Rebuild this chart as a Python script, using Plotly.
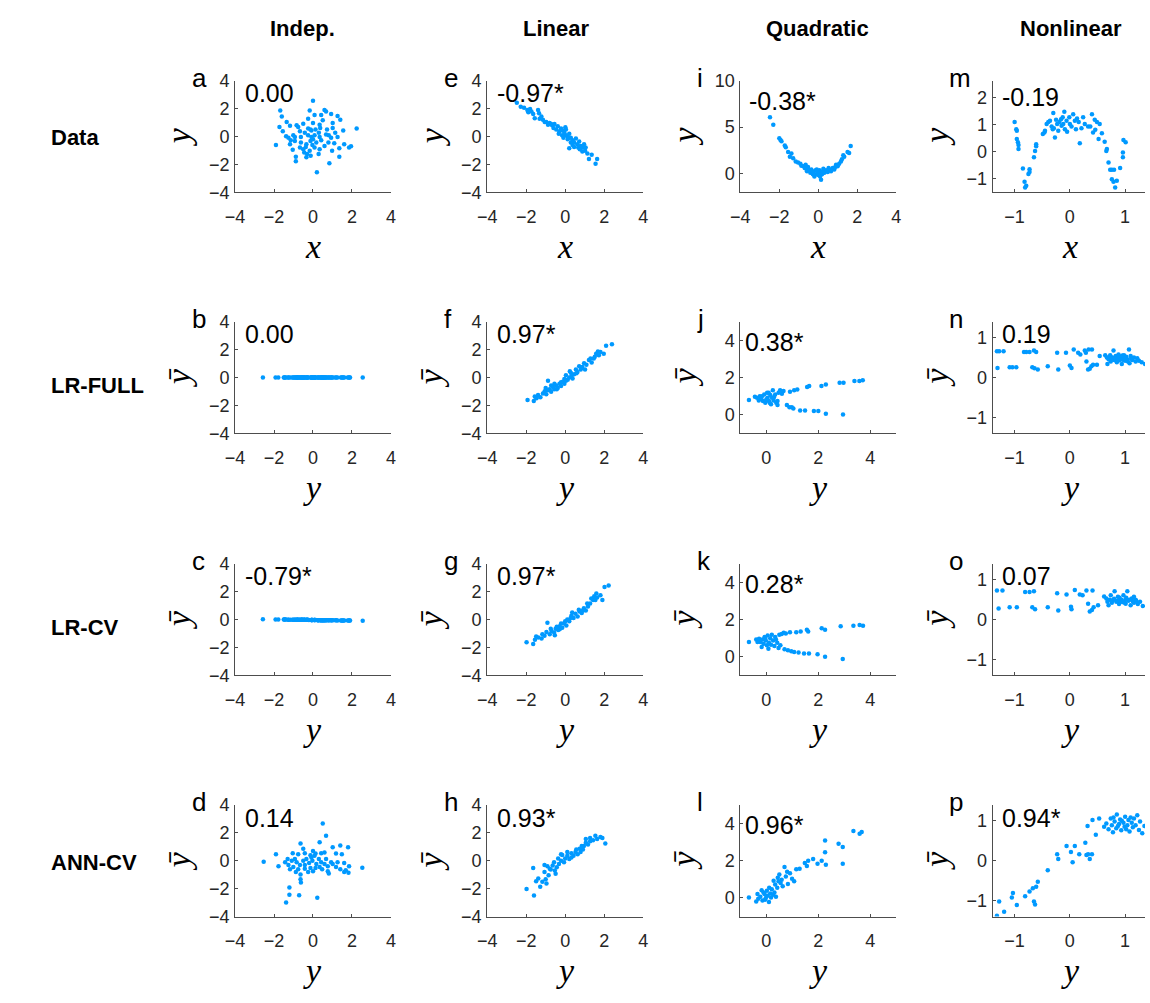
import plotly.graph_objects as go

# ---------------- data ----------------
# Column 1: independent
indep_x = [0, -1.68, -1.6, -0.17, 0.59, 0.67, 0.42, 0.93, 1.26, 1.4,
           0.08, -0.25, -1.35, -1.72, -1.55, -1.18, -0.84, -0.76, -0.5, 0,
           0.34, 0.5, 1.01, 1.01, 0.72, 2.24, 1.55, -0.25, -0.42, -0.08,
           0.13, 0.3, -1.01, -1.14, -0.93, -0.62, -0.25, -0.08, 0.08, 0.34,
           0.81, 0.93, -1.9, -1.18, -0.93, -0.62, -0.34, -0.13, 0, 0.17,
           0.42, 0.59, 0.79, 1.09, 1.6, 1.85, 1.95, 1.35, -1.04, -0.88,
           -0.5, -0.45, -0.3, -0.17, 0.08, 0.34, -0.34, -0.12, 0.29, 0.98,
           1.35, 0.84, 0.2, -0.88, -0.67, -0.37, -0.03, -0.13, 0.37, 0.67,
           1.14, 1.26, -1.38, -0.67, -1.26]
indep_y = [2.55, 1.85, 1.43, 1.85, 1.9, 1.78, 1.54, 1.61, 1.47, 1.19,
           1.54, 1.26, 1.03, 0.68, 0.37, 0.77, 0.8, 0.68, 0.91, 0.96,
           0.84, 1.15, 0.96, 0.61, 0.49, 0.56, 0.42, 0.56, 0.26, 0.42,
           0.49, 0.26, 0.09, -0.28, -0.05, -0.05, 0.09, -0.05, 0.09, -0.05,
           0.09, -0.09, -0.61, -0.56, -0.33, -0.44, -0.56, -0.33, -0.21, -0.44,
           -0.28, -0.68, -0.44, -0.49, -0.56, -0.8, -0.7, -0.84, -0.96, -1.78,
           -0.91, -1.15, -1.26, -1.03, -0.8, -0.91, -1.5, -1.38, -1.26, -1.03,
           -1.45, -1.92, -2.57, -1.45, -0.8, -0.75, -0.61, 0.49, 0.61, 0.14,
           0.26, -0.05, 0.02, 0.37, -0.09]
lrfull_indep_pred = [0.00, 0.00, 0.00, 0.00, 0.00, 0.00, 0.00, 0.00, 0.00, 0.00,
                     0.00, 0.00, 0.00, 0.00, 0.00, 0.00, 0.00, 0.00, 0.00, 0.00,
                     0.00, 0.00, 0.00, 0.00, 0.00, 0.00, 0.00, 0.00, 0.00, 0.00,
                     0.00, 0.00, 0.00, 0.00, 0.00, 0.00, 0.00, 0.00, 0.00, 0.00,
                     0.00, 0.00, 0.00, 0.00, 0.00, 0.00, 0.00, 0.00, 0.00, 0.00,
                     0.00, 0.00, 0.00, 0.00, 0.00, 0.00, 0.00, 0.00, 0.00, 0.00,
                     0.00, 0.00, 0.00, 0.00, 0.00, 0.00, 0.00, 0.00, 0.00, 0.00,
                     0.00, 0.00, 0.00, 0.00, 0.00, 0.00, 0.00, 0.00, 0.00, 0.00,
                     0.00, 0.00, 0.00, 0.00, 0.00]
lrcv_indep_pred = [-0.08, -0.07, -0.06, -0.07, -0.07, -0.07, -0.06, -0.06, -0.06, -0.05,
                   -0.06, -0.06, -0.05, -0.04, -0.04, -0.05, -0.05, -0.04, -0.05, -0.05,
                   -0.05, -0.05, -0.05, -0.04, -0.04, -0.04, -0.04, -0.04, -0.04, -0.04,
                   -0.04, -0.04, -0.03, -0.02, -0.03, -0.03, -0.03, -0.03, -0.03, -0.03,
                   -0.03, -0.03, -0.02, -0.02, -0.02, -0.02, -0.02, -0.02, -0.03, -0.02,
                   -0.02, -0.02, -0.02, -0.02, -0.02, -0.01, -0.02, -0.01, -0.01, 0.01,
                   -0.01, -0.01, -0.01, -0.01, -0.01, -0.01, 0.0, 0.0, -0.01, -0.01,
                   0.0, 0.01, 0.02, 0.0, -0.01, -0.01, -0.02, -0.04, -0.04, -0.03,
                   -0.04, -0.03, -0.03, -0.04, -0.03]
ann_indep_y = [0.5, 0.67, -0.64, 0.34, 1.01, 1.4, 1.8, -0.5, 0, -1.9,
               -1.04, -0.76, -0.42, -0.13, 0.13, 0.42, 0.59, 1.18, 1.48, -2.53,
               -1.77, -1.43, -1.3, -1.26, -1.09, -0.93, -0.84, -0.67, -0.5, -0.34,
               -0.2, -0.08, -0.03, 0.08, 0.17, 0.3, 0.42, 0.59, 0.67, 0.76,
               0.93, 1.18, 1.26, 1.6, 1.68, 1.82, 1.85, 2.53, 1.6, 1.4,
               -1.01, -0.88, -0.76, -0.64, -0.64, -0.62, -0.42, -0.25, -0.13, 0,
               0.34, 0.47, 0.81, 0.76, -1.21, -1.21, -1.38, -0.71, 0.22, -1.18,
               -0.42, 0.13, 1.01]
ann_indep_pred = [2.66, 1.78, 1.23, 1.32, 0.97, 1.09, 0.97, 0.86, 0.69, 0.46,
                  0.53, 0.46, 0.53, 0.39, 0.51, 0.53, 0.58, 0.51, 0.46, -0.07,
                  -0.39, -0.12, 0.12, -0.3, 0, 0.12, -0.12, -0.3, 0, 0.12,
                  -0.16, 0.23, 0, 0.35, -0.23, 0.12, -0.12, -0.23, 0.12, -0.39,
                  -0.12, -0.46, -0.12, -0.16, -0.69, -0.86, -0.39, -0.51, -0.81, -0.62,
                  -0.46, -0.81, -0.62, -0.99, -1.32, -1.57, -0.58, -0.81, -0.53, -0.76,
                  -0.46, -0.62, -0.92, -0.76, -1.92, -2.43, -3.0, -2.47, -2.66, -0.62,
                  -0.3, -0.53, -0.23]

# Column 2: linear
lin_x = [-2.48, -2.28, -1.94, -1.89, -1.73, -1.64, -1.39, -1.34, -1.56, -1.31,
         -1.14, -0.97, -0.88, -0.8, -0.67, -0.55, -0.6, -0.46, -0.38, -0.29,
         -0.21, -0.13, -0.04, 0.04, 0.04, 0.13, 0.21, 0.29, 0.38, 0.21,
         0.46, 0.55, 0.63, 0.72, 0.8, 0.88, 0.97, 1.02, 1.14, 1.22,
         1.36, 1.56, 1.64, 0.29, 0.46, -0.16, -0.33, -0.09, 0.38, 0.67,
         0.88, -0.72, -1.05, -1.22, -2.11, -1.8, 0.13, 0.75, 1.05, 0.01]
lin_y = [2.41, 2.13, 1.89, 1.73, 1.78, 1.61, 1.89, 1.66, 1.31, 1.26,
         1.19, 1.03, 0.84, 0.96, 0.8, 0.89, 0.61, 0.49, 0.73, 0.37,
         0.56, 0.42, 0.26, 0.49, 0.09, -0.05, 0.19, -0.09, -0.28, -0.84,
         -0.44, -0.14, -0.56, -0.37, -0.68, -0.8, -0.56, -1.03, -1.22, -1.61,
         -1.31, -1.96, -1.61, -0.44, -0.75, 0.09, 0.19, -0.09, -0.61, -0.8,
         -1.08, 0.89, 1.03, 1.43, 2.06, 1.97, -0.21, -0.91, -0.8, 0.66]
lrfull_lin_y = [-1.93, -1.61, -1.56, -1.39, -1.27, -1.14, -1.05, -0.97, -0.88, -0.88,
                -0.8, -0.72, -0.63, -0.55, -0.46, -0.38, -0.29, -0.21, -0.13, -0.04,
                0.04, 0.13, 0.21, 0.29, 0.38, 0.46, 0.55, 0.63, 0.72, 0.8,
                0.88, 1.02, 1.09, 1.22, 1.36, 1.47, 1.59, 1.68, 1.73, 1.81,
                1.98, 2.1, 2.4, -0.21, -0.55, -0.72, 0.04, 0.34, 0.85, 1.3,
                -0.04, 0.58, -1.47, -1.0, 0.24, 0.97, 1.52, -0.43]
lrfull_lin_pred = [-1.61, -1.68, -1.36, -1.25, -1.41, -1.14, -0.98, -1.2, -0.91, -0.23,
                   -0.84, -1.02, -0.68, -0.84, -0.57, -0.75, -0.45, -0.61, -0.3, -0.11,
                   0.16, -0.16, 0, 0.34, -0.07, 0.23, 0.57, 0.39, 0.8, 0.57,
                   0.75, 0.57, 0.91, 1.25, 1.07, 1.36, 1.7, 1.86, 1.59, 1.82,
                   1.7, 2.27, 2.39, -0.34, -0.45, -0.57, -0.23, 0.16, 0.68, 1.36,
                   -0.45, 0.3, -1.48, -0.75, 0.45, 1.02, 1.48, -0.84]
lrcv_lin_y = [-1.98, -1.64, -1.55, -1.38, -1.21, -1.06, -0.96, -0.91, -0.79, -0.7,
              -0.57, -0.49, -0.36, -0.28, -0.15, -0.06, 0.06, 0.11, 0.21, 0.32,
              0.43, 0.53, 0.64, 0.74, 0.85, 0.96, 1.06, 1.17, 1.28, 1.43,
              1.49, 1.6, 1.64, 1.81, 1.91, 2.02, 2.23, -0.74, -0.43, -0.21,
              0, 0.36, 0.7, 1.13, 1.34, -1.17, -1.49, 0.28, 0.91, 1.55,
              -0.28, -0.53]
lrcv_lin_pred = [-1.63, -1.74, -1.44, -1.28, -1.35, -1.16, -0.88, -0.23, -1.05, -0.81,
                 -0.93, -0.65, -0.74, -0.47, -0.58, -0.28, -0.42, 0, -0.12, 0.28,
                 0.12, 0.42, 0.23, 0.58, 0.47, 0.81, 0.65, 0.93, 1.16, 1.4,
                 1.67, 1.86, 1.58, 1.74, 1.4, 2.33, 2.44, -0.65, -0.51, -0.28,
                 -0.12, 0.51, 0.7, 1.16, 1.51, -1.05, -1.21, 0.12, 0.65, 1.4,
                 -0.7, -1.12]
ann_lin_y = [-1.98, -1.64, -1.6, -1.49, -1.38, -1.28, -1.17, -1.06, -1.0, -0.96,
             -0.85, -0.74, -1.06, -0.91, -0.64, -0.53, -0.43, -0.32, -0.21, -0.15,
             -0.06, 0, 0.11, 0.21, 0.32, 0.43, 0.53, 0.64, 0.74, 0.79,
             0.91, 0.96, 1.06, 1.17, 1.28, 1.43, 1.55, 1.64, 1.81, 1.91,
             2.06, 1.06, 1.28, 0.11, -0.36, -0.57, -0.79, 0.32, 0.57, 0.85,
             -0.21, -0.49]
ann_lin_pred = [-2.02, -0.53, -2.49, -1.47, -1.28, -1.86, -1.51, -0.81, -1.33, -1.63,
                -1.05, -0.63, -0.3, -0.4, -0.35, -0.7, -0.47, -0.23, 0, 0.4,
                -0.12, 0.16, 0.35, 0.12, 0.53, 0.35, 0.63, 0.47, 0.86, 0.63,
                0.81, 1.05, 1.28, 1.16, 1.4, 1.47, 1.79, 1.56, 1.7, 1.63,
                1.23, 1.56, 1.63, 0.63, 0.16, -0.12, -0.58, 0.23, 0.81, 1.05,
                0.47, -0.93]

# Column 3: quadratic
quad_x = [-2.48, -2.31, -2.0, -1.94, -1.89, -1.72, -1.67, -1.55, -1.38, -1.46,
          -1.29, -1.16, -1.04, -0.92, -0.87, -0.75, -0.7, -0.62, -0.53, -0.58,
          -0.45, -0.41, -0.36, -0.28, -0.25, -0.2, -0.14, -0.11, -0.03, 0.03,
          0.06, 0.11, 0.14, 0.19, 0.23, 0.31, 0.4, 0.48, 0.57, 0.65,
          0.74, 0.82, 0.91, 0.99, 1.07, 1.16, 1.21, 1.28, 1.33, 1.5,
          1.58, 1.66, 0.09, -0.08, -0.31, 0.26, 0.53, -0.65, 0.87]
quad_y = [6.05, 5.26, 3.81, 3.61, 3.47, 3.02, 2.85, 2.34, 2.16, 1.82,
          1.65, 1.31, 1.2, 1.07, 0.86, 0.79, 0.62, 0.52, 0.72, 0.27,
          0.38, 0.1, 0.45, -0.07, 0.17, -0.31, 0.38, -0.07, 0.17, -0.17,
          0.38, 0.1, -0.65, -0.07, 0.27, 0.1, 0.38, 0.17, 0.45, 0.27,
          0.62, 0.45, 0.96, 0.79, 1.07, 1.31, 1.55, 1.99, 1.82, 2.34,
          2.23, 2.96, -0.31, 0.45, 0.27, 0.52, 0.62, 0.96, 0.72]
lrfull_quad_y = [-0.67, -0.44, -0.36, -0.25, -0.2, -0.13, -0.08, -0.04, 0.03, 0.05,
                 0.1, 0.15, 0.18, 0.22, 0.25, 0.28, 0.34, 0.38, 0.43, 0.47,
                 0.53, 0.6, 0.66, 0.79, 0.89, 0.98, 1.04, 0.91, 1.07, 1.19,
                 1.3, 1.49, 1.57, 1.65, 1.83, 2.0, 2.12, 2.29, 2.29, 2.82,
                 2.97, 2.95, 3.39, 3.58, 3.71, -0.17, 0, 0.13, 0.3, 0.43,
                 0.09, -0.29]
lrfull_quad_pred = [0.79, 0.97, 0.91, 1.0, 0.88, 0.74, 1.09, 0.65, 1.18, 0.91,
                    0.74, 1.06, 0.56, 0.91, 1.31, 0.77, 1.09, 0.65, 0.52, 1.18,
                    1.31, 1.13, 1.27, 0.52, 0.41, 0.41, 0.34, 1.24, 1.31, 1.36,
                    0.23, 0.23, 1.49, 1.54, 0.2, 0.2, 1.54, 1.63, 0.05, 1.72,
                    1.72, 0.02, 1.81, 1.81, 1.85, 1.0, 0.83, 0.65, 0.95, 0.74,
                    1.18, 0.77]
lrcv_quad_y = [-0.67, -0.39, -0.28, -0.15, -0.07, -0.02, 0.05, 0.1, 0.15, 0.18,
               0.26, 0.31, 0.34, 0.42, 0.47, 0.5, 0.59, 0.67, 0.7, 0.83,
               0.96, 1.07, 1.15, 1.32, 1.56, 1.61, 1.45, 1.64, 1.97, 2.13,
               2.26, 2.26, 2.86, 2.94, 3.35, 3.59, 3.72, -0.23, -0.11, 0.02,
               0.21, 0.37, 0.54, 0.91, 1.24, -0.34, -0.18, 0.08, -0.05, 0.75]
lrcv_quad_pred = [0.79, 0.93, 0.97, 0.93, 1.06, 0.88, 1.15, 0.76, 1.0, 0.65,
                  0.88, 0.58, 1.06, 0.76, 0.48, 1.18, 1.23, 1.29, 0.41, 0.35,
                  0.3, 0.26, 1.32, 1.36, 1.46, 1.36, 0.18, 0.18, 0.14, 1.53,
                  1.46, 0, 1.64, -0.12, 1.67, 1.71, 1.67, 0.79, 0.7, 0.62,
                  1.18, 0.93, 0.62, 1.32, 0.23, 0.79, 0.53, 0.44, 1.0, 1.25]
ann_quad_y = [-0.67, -0.39, -0.31, -0.23, -0.18, -0.15, -0.07, -0.02, 0.02, 0.05,
              0.1, 0.15, 0.18, 0.21, 0.26, 0.31, 0.34, 0.37, 0.42, 0.47,
              0.5, 0.59, 0.63, 0.7, 0.75, 0.83, 0.91, 0.99, 1.07, 1.15,
              1.28, 1.48, 1.56, 1.61, 1.8, 1.97, 2.13, 2.26, 2.26, 2.29,
              2.78, 2.94, 2.94, 3.35, 3.59, 3.67, -0.11, 0.11, 0.28, 0.44,
              0.55, 0.8, -0.34, -0.05]
ann_quad_pred = [0.03, -0.19, -0.05, 0.07, 0.41, -0.14, 0.21, 0, 0.38, 0.12,
                 -0.22, 0.24, 0.03, 0.46, 0.17, 0.29, 0.72, 0.07, 0.55, 0.89,
                 1.26, 0.97, 0.63, 1.66, 1.15, 0.75, 1.32, 1.03, 0.89, 1.54,
                 1.57, 1.88, 1.71, 2.0, 2.09, 1.83, 2.0, 3.08, 2.46, 1.78,
                 2.91, 2.74, 1.83, 3.59, 3.45, 3.54, 0.29, 0.55, 0.92, 1.09,
                 0.8, 1.4, 0.21, -0.1]

# Column 4: nonlinear
nonlin_x = [-1.0, -0.97, -0.96, -0.96, -0.94, -0.93, -0.93, -0.85, -0.82, -0.79,
            -0.81, -0.73, -0.75, -0.73, -0.65, -0.63, -0.61, -0.61, -0.49, -0.46,
            -0.45, -0.42, -0.39, -0.36, -0.33, -0.3, -0.29, -0.27, -0.25, -0.23,
            -0.21, -0.19, -0.16, -0.15, -0.13, -0.12, -0.1, -0.09, -0.06, -0.05,
            -0.01, 0, 0.03, 0.06, 0.09, 0.11, 0.13, 0.16, 0.18, 0.21,
            0.24, 0.27, 0.33, 0.37, 0.4, 0.42, 0.45, 0.46, 0.49, 0.52,
            0.58, 0.63, 0.66, 0.67, 0.7, 0.73, 0.76, 0.8, 0.76, 0.79,
            0.82, 0.85, 0.91, 0.96, 0.96, 0.97, 1.01, 0.54, -0.31]
nonlin_y = [1.1, 0.83, 0.77, 0.46, 0.34, 0.09, 0.24, -0.63, -1.13, -1.28,
            -1.34, -0.66, -0.84, -0.76, -0.22, 0.02, 0.19, 0.27, 0.65, 0.71,
            0.77, 1.02, 1.1, 1.14, 0.93, 1.43, 0.86, 0.52, 1.18, 1.02,
            0.77, 1.1, 1.2, 0.96, 1.27, 1.02, 1.48, 0.83, 1.14, 0.73,
            1.27, 1.02, 0.93, 1.39, 1.14, 0.83, 1.23, 1.1, 0.31, 0.86,
            1.27, 1.02, 0.93, 0.93, 1.39, 0.71, 1.18, 0.81, 1.1, 0.46,
            0.68, 0.36, 0.02, 0.09, -0.41, -0.68, -0.68, -0.68, -1.03, -1.13,
            -1.34, -1.09, -0.62, -0.22, -0.04, 0.43, 0.34, 1.02, 0.83]
lrfull_nonlin_y = [-1.32, -1.28, -1.2, -1.31, -1.09, -1.04, -0.97, -0.83, -0.79, -0.73,
                   -0.65, -0.61, -0.68, -0.64, -0.58, -0.4, -0.23, -0.21, -0.07, 0,
                   0.03, 0.07, 0.15, 0.19, 0.27, 0.29, 0.3, 0.33, 0.36, 0.39,
                   0.34, 0.4, 0.42, 0.49, 0.54, 0.64, 0.67, 0.68, 0.7, 0.73,
                   0.74, 0.77, 0.79, 0.8, 0.83, 0.85, 0.86, 0.88, 0.9, 0.92,
                   0.94, 0.96, 0.98, 1.0, 1.02, 1.04, 1.07, 1.08, 1.1, 1.13,
                   1.16, 1.19, 1.22, 1.25, 1.3, 1.36,
                   0.75, 0.82, 0.87, 0.93, 0.97, 1.01, 1.05, 1.11, 0.72, 0.95]
lrfull_nonlin_pred = [0.66, 0.66, 0.66, 0.24, 0.26, 0.26, 0.26, 0.64, 0.64, 0.64,
                      0.68, 0.64, 0.26, 0.23, 0.2, 0.28, 0.62, 0.2, 0.62, 0.3,
                      0.24, 0.7, 0.62, 0.58, 0.68, 0.62, 0.4, 0.2, 0.22, 0.28,
                      0.7, 0.7, 0.32, 0.32, 0.54, 0.56, 0.5, 0.34, 0.46, 0.56,
                      0.4, 0.5, 0.68, 0.44, 0.54, 0.38, 0.5, 0.58, 0.44, 0.52,
                      0.34, 0.5, 0.56, 0.42, 0.52, 0.46, 0.7, 0.36, 0.54, 0.44,
                      0.5, 0.4, 0.48, 0.42, 0.38, 0.34,
                      0.48, 0.47, 0.42, 0.46, 0.44, 0.47, 0.4, 0.47, 0.52, 0.55]
lrcv_nonlin_y = [-1.32, -1.22, -1.29, -1.09, -0.96, -0.81, -0.73, -0.65, -0.68, -0.63,
                 -0.4, -0.23, -0.21, -0.06, 0.02, 0.03, 0.09, 0.18, 0.23, 0.3,
                 0.33, 0.36, 0.4, 0.43, 0.41, 0.51, 0.62, 0.66, 0.7, 0.74,
                 0.78, 0.81, 0.84, 0.87, 0.89, 0.93, 0.97, 0.99, 1.02, 1.04,
                 1.06, 1.1, 1.12, 1.16, 1.19, 1.23, 1.27, 1.32, 0.76, 0.91,
                 1.0, 1.16, 0.72, 0.8, 0.86, 0.95, 1.08, 1.14, 0.9, 1.01,
                 0.68, 1.2]
lrcv_nonlin_pred = [0.73, 0.73, 0.28, 0.31, 0.31, 0.69, 0.69, 0.71, 0.31, 0.26,
                    0.31, 0.66, 0.23, 0.63, 0.32, 0.26, 0.74, 0.63, 0.61, 0.73,
                    0.4, 0.2, 0.24, 0.31, 0.73, 0.36, 0.58, 0.53, 0.36, 0.61,
                    0.49, 0.71, 0.45, 0.57, 0.39, 0.5, 0.61, 0.42, 0.55, 0.71,
                    0.47, 0.36, 0.53, 0.42, 0.5, 0.39, 0.45, 0.34, 0.42, 0.47,
                    0.49, 0.57, 0.5, 0.52, 0.47, 0.44, 0.5, 0.46, 0.55, 0.4,
                    0.45, 0.47]
ann_nonlin_y = [-1.32, -1.28, -1.19, -1.05, -1.03, -0.96, -0.81, -0.73, -0.67, -0.65,
                -0.63, -0.61, -0.58, -0.4, -0.23, -0.21, -0.06, 0.02, 0.05, 0.09,
                0.17, 0.28, 0.3, 0.33, 0.36, 0.4, 0.41, 0.32, 0.47, 0.53,
                0.62, 0.66, 0.7, 0.74, 0.76, 0.78, 0.81, 0.84, 0.85, 0.89,
                0.91, 0.93, 0.97, 0.99, 1.0, 1.04, 1.06, 1.08, 1.12, 1.14,
                1.16, 1.19, 1.22, 1.25, 1.27, 1.31, 1.35, 0.79, 0.87, 0.94,
                1.02, 1.1]
ann_nonlin_pred = [-1.38, -1.02, -1.28, -0.92, -0.81, -1.11, -0.89, -0.77, -0.69, -1.02,
                   -1.1, -0.65, -0.53, -0.24, 0.16, 0.04, 0.37, 0.22, -0.04, 0.37,
                   0.16, 0.45, 0.14, 0.16, 0.04, 0.16, 1.02, 0.87, 0.65, 1.06,
                   0.85, 0.93, 0.79, 1.06, 0.89, 0.71, 0.98, 0.81, 1.16, 0.92,
                   1.03, 0.76, 0.95, 0.85, 1.1, 0.89, 1.02, 0.73, 0.95, 0.84,
                   1.06, 0.89, 1.14, 0.77, 0.98, 0.69, 0.87, 1.08, 0.87, 1.0,
                   0.79, 1.08]

col_titles = ["Indep.", "Linear", "Quadratic", "Nonlinear"]
row_titles = ["Data", "LR-FULL", "LR-CV", "ANN-CV"]
panel_letters = [["a", "b", "c", "d"], ["e", "f", "g", "h"],
                 ["i", "j", "k", "l"], ["m", "n", "o", "p"]]
corr_labels = [["0.00", "0.00", "-0.79*", "0.14"],
               ["-0.97*", "0.97*", "0.97*", "0.93*"],
               ["-0.38*", "0.38*", "0.28*", "0.96*"],
               ["-0.19", "0.19", "0.07", "0.94*"]]

panels = [
    [(indep_x, indep_y), (indep_y, lrfull_indep_pred), (indep_y, lrcv_indep_pred), (ann_indep_y, ann_indep_pred)],
    [(lin_x, lin_y), (lrfull_lin_y, lrfull_lin_pred), (lrcv_lin_y, lrcv_lin_pred), (ann_lin_y, ann_lin_pred)],
    [(quad_x, quad_y), (lrfull_quad_y, lrfull_quad_pred), (lrcv_quad_y, lrcv_quad_pred), (ann_quad_y, ann_quad_pred)],
    [(nonlin_x, nonlin_y), (lrfull_nonlin_y, lrfull_nonlin_pred), (lrcv_nonlin_y, lrcv_nonlin_pred), (ann_nonlin_y, ann_nonlin_pred)],
]

ticks_4 = [-4, -2, 0, 2, 4]
ticks_q = [0, 2, 4]
ticks_n = [-1, 0, 1]

# ---------------- layout geometry ----------------
W, H = 1150, 1003
COL_LEFT = [228.0, 483.5, 740.0, 995.5]
PANEL_W = 158.0
ROW_TOP = [72.0, 318.0, 565.0, 811.0]
PANEL_H = 114.0
COL_TITLE_X = [296, 553, 818, 1075]
ROW_TITLE_Y = [130, 383, 630, 870]

BLUE = "rgb(0,153,255)"
AX = "#4d4d4d"
TXT = "#262626"
SANS = "Liberation Sans, Arial, sans-serif"
SERIF = "Liberation Serif, Times New Roman, serif"


def axis_spec(c, r):
    if c < 2:
        return [-4, 4], ticks_4, [-4, 4], ticks_4
    if c == 2:
        if r == 0:
            return [-4, 4], ticks_4, [-2, 10], [0, 5, 10]
        return [-1, 5], ticks_q, [-1, 5], ticks_q
    if r == 0:
        return [-1.4, 1.36], ticks_n, [-1.52, 2.64], [-1, 0, 1, 2]
    return [-1.4, 1.36], ticks_n, [-1.4, 1.4], ticks_n


def px(x):
    return x / W


def py(y):
    return 1 - y / H


fig = go.Figure()
layout = {}
annotations = []
k = 0
for c in range(4):
    for r in range(4):
        k += 1
        sfx = "" if k == 1 else str(k)
        xs, ys = panels[c][r]
        left = COL_LEFT[c]
        right = min(left + PANEL_W, W)
        top = ROW_TOP[r]
        bottom = top + PANEL_H
        xr, xt, yr, yt = axis_spec(c, r)
        fig.add_trace(go.Scatter(
            x=xs, y=ys, mode="markers",
            marker=dict(size=4.5, color=BLUE, line=dict(width=0)),
            xaxis="x" + sfx, yaxis="y" + sfx, showlegend=False,
            hoverinfo="skip"))
        common = dict(showline=True, linecolor=AX, linewidth=1, mirror=False,
                      ticks="inside", ticklen=3, tickwidth=1, tickcolor=AX,
                      showgrid=False, zeroline=False, fixedrange=True,
                      tickfont=dict(family=SANS, size=18, color=TXT))
        layout["xaxis" + sfx] = dict(domain=[px(left), px(right)], range=xr,
                                     tickvals=xt, anchor="y" + sfx,
                                     ticklabelstandoff=8, **common)
        layout["yaxis" + sfx] = dict(domain=[py(bottom), py(top)], range=yr,
                                     tickvals=yt, anchor="x" + sfx,
                                     ticklabelstandoff=1, **common)
        cx = (left + left + PANEL_W) / 2
        cy = (top + bottom) / 2
        xlab = "<i>x</i>" if r == 0 else "<i>y</i>"
        ylab = "<i>y</i>" if r == 0 else "<i>ȳ</i>"
        annotations.append(dict(x=px(cx), y=py(bottom + 55), xref="paper", yref="paper",
                                text=xlab, showarrow=False, xanchor="center", yanchor="middle",
                                font=dict(family=SERIF, size=34, color="black")))
        annotations.append(dict(x=px(left - 57), y=py(cy), xref="paper", yref="paper",
                                text=ylab, showarrow=False, xanchor="center", yanchor="middle",
                                textangle=-90,
                                font=dict(family=SERIF, size=34, color="black")))
        annotations.append(dict(x=px(left - 46), y=py(top - 3), xref="paper", yref="paper",
                                text=panel_letters[c][r], showarrow=False, xanchor="left",
                                yanchor="middle",
                                font=dict(family=SANS, size=26, color="black")))
        if c == 2:
            dx, dy = (7, 21) if r == 0 else (3, 21)
        elif c == 3 and r == 0:
            dx, dy = 8, 17
        else:
            dx, dy = 8, 13
        annotations.append(dict(x=px(left + dx), y=py(top + dy), xref="paper", yref="paper",
                                text=corr_labels[c][r], showarrow=False, xanchor="left",
                                yanchor="middle",
                                font=dict(family=SANS, size=25, color="black")))

for c in range(4):
    annotations.append(dict(x=px(COL_TITLE_X[c]), y=py(19), xref="paper", yref="paper",
                            text="<b>" + col_titles[c] + "</b>", showarrow=False,
                            xanchor="center", yanchor="middle",
                            font=dict(family=SANS, size=22, color="black")))
for r in range(4):
    annotations.append(dict(x=px(40), y=py(ROW_TITLE_Y[r]), xref="paper", yref="paper",
                            text="<b>" + row_titles[r] + "</b>", showarrow=False,
                            xanchor="left", yanchor="middle",
                            font=dict(family=SANS, size=22, color="black")))

fig.update_layout(width=W, height=H, autosize=False,
                  margin=dict(l=0, r=0, t=0, b=0, pad=0),
                  paper_bgcolor="white", plot_bgcolor="white",
                  annotations=annotations, **layout)

fig.write_html("out.html", config={"displayModeBar": False},
               post_script="document.body.style.margin='0';document.body.style.overflow='hidden';")
